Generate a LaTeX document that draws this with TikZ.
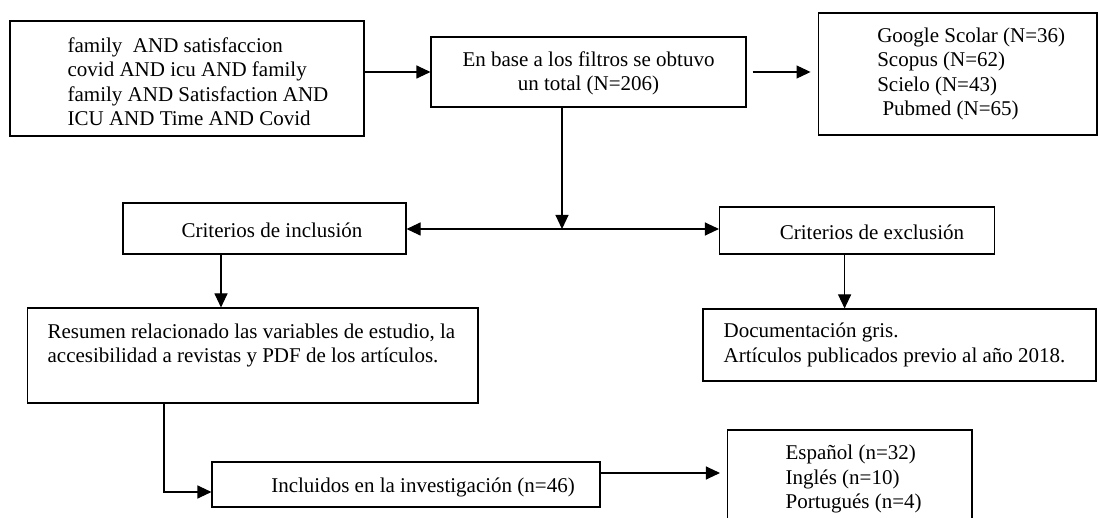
\documentclass[tikz,border=0pt]{standalone}
\usepackage{fontspec}
\setmainfont{Liberation Serif}
\usetikzlibrary{arrows.meta}

\begin{document}
\begin{tikzpicture}[x=1pt, y=-1pt,
    caja/.style={draw, line width=1.1pt, inner sep=0pt},
    texto/.style={inner sep=0pt, align=left, font=\fontsize{21}{24.5}\selectfont},
    flecha/.style={line width=1.1pt, -{Triangle[length=14pt, width=13pt]}}]

    \useasboundingbox (0,0) rectangle (1098,518);
    \clip (0,0) rectangle (1098,518);

    % ---------------------------------------------------
    % 1. Boxes
    % ---------------------------------------------------

    % search terms
    \node[caja, minimum width=354pt, minimum height=115pt] (busqueda) at (187,78.5) {};
    \node[texto, anchor=west] (busqueda-txt) at ([xshift=58pt, yshift=-3pt]busqueda.west)
        {family\ \ AND satisfaccion\\covid AND icu AND family\\family AND Satisfaction AND\\ICU AND Time AND Covid};

    % total after filters
    \node[caja, minimum width=315pt, minimum height=70pt] (total) at (588.5,72) {};
    \node[texto, align=center] (total-txt) at ([yshift=-1.5pt]total.center)
        {En base a los filtros se obtuvo\\un total (N=206)};

    % databases
    \node[caja, minimum width=278.4pt, minimum height=122pt] (bases) at (957.8,74) {};
    \node[texto, anchor=west] (bases-txt) at ([xshift=59pt]bases.west)
        {Google Scolar (N=36)\\Scopus (N=62)\\Scielo (N=43)\\\ Pubmed (N=65)};

    % inclusion / exclusion criteria
    \node[caja, minimum width=283pt, minimum height=51pt] (inclusion) at (264.5,228.5) {};
    \node[texto] (inclusion-txt) at ([xshift=7.5pt, yshift=-1.5pt]inclusion.center) {Criterios de inclusión};

    \node[caja, minimum width=275pt, minimum height=47pt] (exclusion) at (857,230.5) {};
    \node[texto] (exclusion-txt) at ([xshift=15pt, yshift=-1.5pt]exclusion.center) {Criterios de exclusión};

    % summary of criteria
    \node[caja, minimum width=450.5pt, minimum height=95pt] (resumen) at (252.75,355.5) {};
    \node[texto, anchor=west] (resumen-txt) at ([xshift=20.5pt, yshift=10pt]resumen.west)
        {Resumen relacionado las variables de estudio, la\\accesibilidad a revistas y PDF de los artículos.};

    \node[caja, minimum width=393pt, minimum height=72pt] (documentacion) at (899.5,345) {};
    \node[texto, anchor=west] (documentacion-txt) at ([xshift=21pt]documentacion.west)
        {Documentación gris.\\Artículos publicados previo al año 2018.};

    % included articles and languages
    \node[caja, minimum width=388pt, minimum height=45pt] (incluidos) at (406,484.5) {};
    \node[texto] (incluidos-txt) at ([xshift=17pt, yshift=-2.5pt]incluidos.center) {Incluidos en la investigación (n=46)};

    \node[caja, minimum width=244.5pt, minimum height=98pt] (idiomas) at (849.75,479) {};
    \node[texto, anchor=west] (idiomas-txt) at ([xshift=58.5pt]idiomas.west)
        {Español (n=32)\\Inglés (n=10)\\Portugués (n=4)};

    % ---------------------------------------------------
    % 2. Arrows
    % ---------------------------------------------------
    \coordinate (cruce) at (562,229);

    \draw[flecha] (busqueda.east |- total.west) -- (total.west);
    \draw[flecha, shorten <=6pt, shorten >=7.5pt] (total.east) -- (total.east -| bases.west);

    \draw[flecha] (total.south -| cruce) -- (cruce);
    \draw[flecha] (cruce) -- (inclusion.east |- cruce);
    \draw[flecha] (cruce) -- (exclusion.west |- cruce);

    \draw[flecha] ([xshift=-43.5pt]inclusion.south) -- ([xshift=-43.5pt]inclusion.south |- resumen.north);
    \draw[flecha] ([xshift=-12.4pt]exclusion.south) -- ([xshift=-12.4pt]exclusion.south |- documentacion.north);

    \draw[flecha] ([xshift=-88.75pt]resumen.south) |- ([yshift=-7.5pt]incluidos.west);
    \draw[flecha, shorten >=7pt] ([yshift=11.5pt]incluidos.east) -- ([yshift=11.5pt]incluidos.east -| idiomas.west);

\end{tikzpicture}
\end{document}
